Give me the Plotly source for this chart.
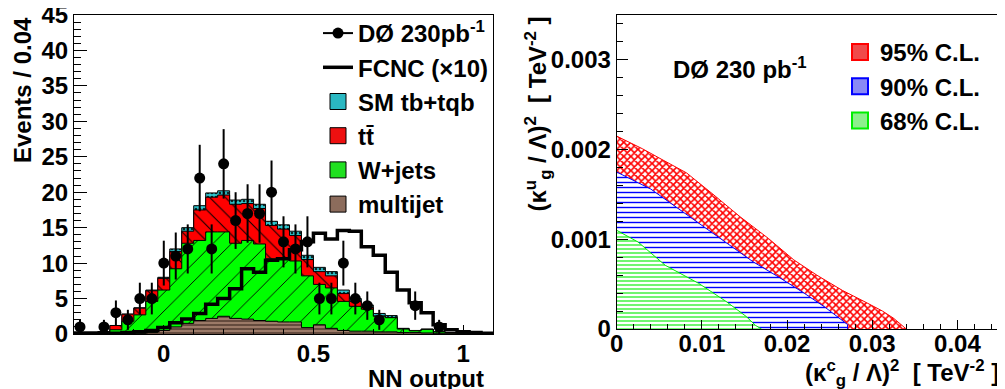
import numpy as np
import plotly.graph_objects as go

# ---------------- Left panel: NN output histogram ----------------
bin_lo, bin_w, n_bins = -0.3, 0.04, 35

data_counts = [1, 0, 1, 3, 2, 5, 5, 10, 11, 12, 22, 12, 24, 16, 17, 17, 20, 13, 12, 13,
               5, 5, 10, 5, 4, 2, 0, 0, 4, 0, 1, 0, 0, 0, 0]
multijet = [0.05, 0.05, 0.05, 0.05, 0.05, 0.1, 0.2, 0.5, 1.0, 1.5, 1.9, 2.2, 2.5, 2.2, 2.1, 1.9,
            1.8, 1.7, 1.7, 0.9, 1.3, 0.8, 0.5, 0.4, 0.4, 0.3, 0.3, 0.2, 0.2, 0.15, 0.1, 0.1,
            0.05, 0.05, 0.05]
wjets = [0.1, 0.1, 0.15, 0.55, 1.75, 2.6, 4.4, 5.7, 8.2, 11.3, 11.3, 12.2, 11.9, 10.6, 11.1, 10.8,
         8.8, 9.0, 8.6, 7.3, 5.7, 5.7, 4.1, 3.5, 3.1, 2.2, 2.0, 0.5, 0.25, 0.5, 0.2, 0.05,
         0.05, 0.05, 0.03]
ttbar = [0.1, 0.1, 0.15, 0.6, 1.0, 0.95, 1.5, 1.65, 2.45, 1.7, 4.3, 4.9, 5.2, 5.5, 5.2, 5.0,
         4.7, 4.1, 3.6, 2.3, 1.8, 1.7, 1.1, 0.7, 0.25, 0.05, 0.0, 0.0, 0.0, 0.0, 0.0, 0.03,
         0.0, 0.0, 0.0]
single_top = [0.0, 0.0, 0.0, 0.0, 0.0, 0.05, 0.1, 0.15, 0.35, 0.5, 0.6, 0.6, 0.6, 0.6, 0.6, 0.6,
              0.6, 0.6, 0.6, 0.6, 0.6, 0.6, 0.5, 0.4, 0.35, 0.35, 0.3, 0.1, 0.05, 0.05, 0.05,
              0.02, 0.02, 0.02, 0.02]
fcnc_x10 = [0.1, 0.1, 0.1, 0.1, 0.2, 0.3, 0.5, 0.9, 1.6, 2.1, 2.9, 4.2, 5.0, 6.4, 9.2, 8.7,
            10.4, 10.6, 11.9, 13.0, 14.2, 13.4, 14.6, 14.5, 12.3, 11.1, 8.7, 6.2, 4.4, 3.0,
            1.3, 0.6, 0.3, 0.2, 0.1]

# ---------------- Right panel: C.L. contours ----------------
cl95_x = [0, 0.003, 0.0053, 0.0082, 0.0112, 0.0145, 0.0178, 0.0208, 0.0235, 0.0265, 0.0294,
          0.0312, 0.0325, 0.0340]
cl95_y = [0.00215, 0.00201, 0.00189, 0.00174, 0.00151, 0.00125, 0.00101, 0.00077, 0.00060,
          0.00043, 0.00029, 0.00020, 0.00012, 0.0]
cl90_x = [0, 0.004, 0.008, 0.012, 0.016, 0.019, 0.022, 0.0245, 0.0262, 0.0271, 0.0271]
cl90_y = [0.00175, 0.00156, 0.00129, 0.00102, 0.00075, 0.00058, 0.00040, 0.00024, 0.00011,
          0.00005, 0.0]
cl68_x = [0, 0.0025, 0.0057, 0.0096, 0.0128, 0.0152, 0.0163, 0.0170]
cl68_y = [0.00110, 0.00097, 0.00071, 0.00051, 0.00031, 0.00014, 0.00004, 0.0]

FONT = "Liberation Sans, Arial, Helvetica, sans-serif"
# the page body has an 8px margin; size the figure so it ends at the window edge
OFF = 8
W, H = 1005 - OFF, 389 - OFF

edges = bin_lo + bin_w * np.arange(n_bins + 1)
centers = edges[:-1] + bin_w / 2

mj = np.array(multijet)
wj = mj + np.array(wjets)
tt = wj + np.array(ttbar)
tot = tt + np.array(single_top)


def step(v):
    v = np.asarray(v, dtype=float)
    return np.append(v, v[-1])


def px(x):
    return (x - OFF) / W


def py(y):
    return 1 - (y - OFF) / H


fig = go.Figure()

stack = [
    ("SM tb+tqb", tot, "#2ab8c2", dict(shape=".", fgcolor="#0a2a2a", bgcolor="#2ec6cf", size=4, solidity=0.35)),
    ("tt\u0304", tt, "#ee1010", dict(shape="\\", fgcolor="black", bgcolor="#ff0000", size=11, solidity=0.09)),
    ("W+jets", wj, "#20e020", dict(shape="/", fgcolor="black", bgcolor="#00ff00", size=13, solidity=0.07)),
    ("multijet", mj, "#8c6c5c", dict(shape="-", fgcolor="#4d362c", bgcolor="#9c7a68", size=4, solidity=0.35)),
]
for name, cum, lcol, pat in stack:
    fig.add_trace(go.Scatter(
        x=edges, y=step(cum), mode="lines", line=dict(shape="hv", color="black", width=1),
        fill="tozeroy", fillcolor=pat["bgcolor"],
        fillpattern=dict(shape=pat["shape"], fgcolor=pat["fgcolor"], bgcolor=pat["bgcolor"],
                         size=pat["size"], solidity=pat["solidity"], fillmode="replace"),
        showlegend=False, xaxis="x", yaxis="y", hoverinfo="skip"))

fig.add_trace(go.Scatter(
    x=edges, y=step(fcnc_x10), mode="lines", line=dict(shape="hv", color="black", width=3.5),
    name="FCNC (\u00d710)", legendrank=2, xaxis="x", yaxis="y"))

dc = np.array(data_counts, dtype=float)
fig.add_trace(go.Scatter(
    x=centers, y=[v if v > 0 else None for v in dc], mode="markers",
    marker=dict(color="black", size=11),
    error_y=dict(type="data", array=np.sqrt(dc), color="black", thickness=2, width=0),
    showlegend=False, xaxis="x", yaxis="y"))

# legend entries (left)
fig.add_trace(go.Scatter(x=[None], y=[None], mode="lines+markers", name="D\u00d8 230pb<sup>-1</sup>",
                         line=dict(color="black", width=2), marker=dict(color="black", size=11),
                         legendrank=1, xaxis="x", yaxis="y"))
for rank, (name, cum, lcol, pat) in enumerate(stack, start=3):
    fig.add_trace(go.Scatter(x=[None], y=[None], mode="markers", name=name, legendrank=rank,
                             marker=dict(symbol="square", size=16, color=lcol,
                                         line=dict(color="black", width=1)),
                             xaxis="x", yaxis="y"))

# ---------------- Right panel traces ----------------
cl_sets = [
    ("95% C.L.", cl95_x, cl95_y, "#ff0000", "#f04a4a", dict(shape="x", size=5, solidity=0.55)),
    ("90% C.L.", cl90_x, cl90_y, "#0000ff", "#8a8af5", dict(shape="-", size=5, solidity=0.28)),
    ("68% C.L.", cl68_x, cl68_y, "#00ee00", "#8cf08c", dict(shape="-", size=4, solidity=0.28)),
]
for name, xs, ys, col, lcol, pat in cl_sets:
    fig.add_trace(go.Scatter(
        x=xs, y=ys, mode="lines", line=dict(color=col, width=1), fill="tozeroy", fillcolor="white",
        fillpattern=dict(shape=pat["shape"], fgcolor=col, bgcolor="white", size=pat["size"],
                         solidity=pat["solidity"], fillmode="replace"),
        showlegend=False, xaxis="x2", yaxis="y2", hoverinfo="skip"))
for rank, (name, xs, ys, col, lcol, pat) in enumerate(cl_sets, start=1):
    fig.add_trace(go.Scatter(x=[None], y=[None], mode="markers", name=name, legend="legend2",
                             legendrank=rank,
                             marker=dict(symbol="square", size=16, color=lcol,
                                         line=dict(color=col, width=2)),
                             xaxis="x2", yaxis="y2"))

tickfont = dict(family=FONT, size=24, color="black", weight="bold")
common = dict(showline=True, linecolor="black", linewidth=1, mirror=True, ticks="inside",
              tickcolor="black", tickwidth=1, showgrid=False, zeroline=False, tickfont=tickfont,
              automargin=False, ticklabeloverflow="allow")

fig.update_layout(
    template="none",
    width=W, height=H, margin=dict(l=0, r=0, t=0, b=0, autoexpand=False), autosize=False,
    paper_bgcolor="white", plot_bgcolor="white",
    font=dict(family=FONT, size=24, color="black", weight="bold"),
    xaxis=dict(domain=[px(74), px(493)], range=[-0.3, 1.1], dtick=0.5, tick0=0, ticklen=9.5,
               minor=dict(ticks="inside", dtick=0.1, tick0=0, ticklen=5, tickcolor="black"),
               anchor="y", ticklabelstandoff=-2, **common),
    yaxis=dict(domain=[py(334), py(15)], range=[0, 45], dtick=5, ticklen=12.5,
               minor=dict(ticks="inside", dtick=1, ticklen=6.5, tickcolor="black"),
               anchor="x", **common),
    xaxis2=dict(domain=[px(616.7), px(1000)], range=[0, 0.045], dtick=0.01, ticklen=9.5,
                minor=dict(ticks="inside", dtick=0.002, ticklen=5, tickcolor="black"),
                anchor="y2", exponentformat="none", ticklabelstandoff=-7, **common),
    yaxis2=dict(domain=[py(329), py(15)], range=[0, 0.0035], dtick=0.001, ticklen=11.5,
                minor=dict(ticks="inside", dtick=0.0002, ticklen=6, tickcolor="black"),
                anchor="x2", exponentformat="none", **common),
    legend=dict(x=px(318), y=py(11), xanchor="left", yanchor="top", bgcolor="rgba(0,0,0,0)",
                font=dict(family=FONT, size=24, color="black", weight="bold"), tracegroupgap=0),
    legend2=dict(x=px(840), y=py(30), xanchor="left", yanchor="top", bgcolor="rgba(0,0,0,0)",
                 font=dict(family=FONT, size=24, color="black", weight="bold"), tracegroupgap=0),
    annotations=[
        dict(text="Events / 0.04", textangle=-90, x=px(22), y=py(15), xref="paper", yref="paper",
             xanchor="center", yanchor="top", showarrow=False,
             font=dict(family=FONT, size=24, weight="bold")),
        dict(text="NN output", x=px(486), y=py(378), xref="paper", yref="paper",
             xanchor="right", yanchor="middle", showarrow=False,
             font=dict(family=FONT, size=24, weight="bold")),
        dict(text="D\u00d8 230 pb<sup>-1</sup>", x=px(671), y=py(68), xref="paper", yref="paper",
             xanchor="left", yanchor="middle", showarrow=False,
             font=dict(family=FONT, size=24, weight="bold")),
        dict(text="(\u03ba<sup>u</sup><sub>g</sub> / \u039b)<sup>2</sup>  [ TeV<sup>-2</sup> ]",
             textangle=-90, x=px(537), y=py(15), xref="paper", yref="paper",
             xanchor="center", yanchor="top", showarrow=False,
             font=dict(family=FONT, size=24, weight="bold")),
        dict(text="(\u03ba<sup>c</sup><sub>g</sub> / \u039b)<sup>2</sup>  [ TeV<sup>-2</sup> ]",
             x=px(1001), y=py(373), xref="paper", yref="paper",
             xanchor="right", yanchor="middle", showarrow=False,
             font=dict(family=FONT, size=24, weight="bold")),
    ],
)

fig.write_html("out.html")
